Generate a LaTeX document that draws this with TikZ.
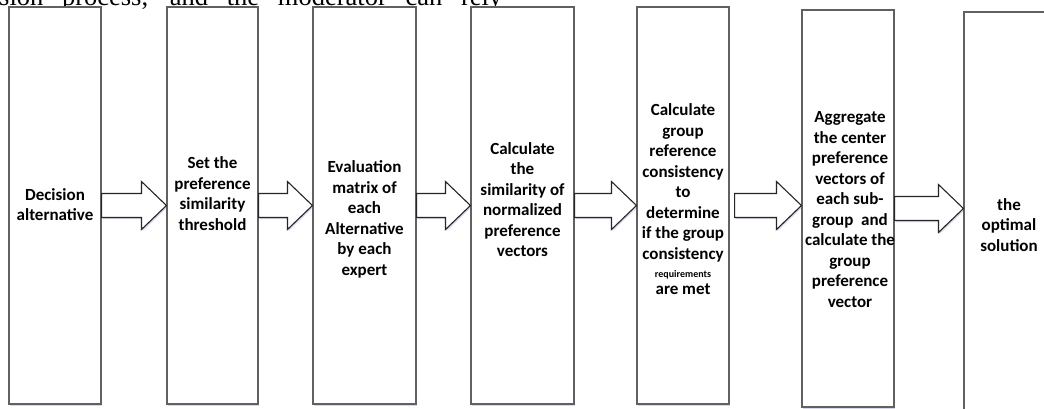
\documentclass[tikz,border=0pt]{standalone}
\usepackage{fontspec}
\setmainfont{Carlito}
\newfontfamily\bodyserif{Liberation Serif}
\usetikzlibrary{calc,shadows}

\tikzset{
  stage/.style={draw=black!62, line width=1.1pt, fill=white, inner sep=0pt,
    drop shadow={shadow xshift=1.2pt, shadow yshift=-1.5pt, fill=blue!40!gray, opacity=0.22}},
  stagetext/.style={align=center, inner sep=0pt, font=\bfseries\fontsize{17}{20.5}\selectfont},
  flowarr/.style={draw=black!85, line width=1.1pt, fill=white, line join=miter,
    drop shadow={shadow xshift=1.2pt, shadow yshift=-1.5pt, fill=blue!40!gray, opacity=0.22}}
}

% block arrow from one stage to the next
\newcommand{\flowarrow}[3][0]{%
  \draw[flowarr] ($(#2.east)+(#1,-12)$) -- ($(#3.west |- #2.east)+(-25,-12)$)
    -- ($(#3.west |- #2.east)+(-25,-24)$) -- (#3.west |- #2.east)
    -- ($(#3.west |- #2.east)+(-25,24)$) -- ($(#3.west |- #2.east)+(-25,12)$)
    -- ($(#2.east)+(#1,12)$) -- cycle;}

\begin{document}
\begin{tikzpicture}[x=1pt, y=-1pt]
    \clip (0,0) rectangle (1044,408);
    \fill[white] (0,0) rectangle (1044,408);

    % line of the page above, cut off
    \node[anchor=base west, inner sep=0pt] (pagetext) at (-1,5)
        {\bodyserif\fontsize{26.5}{30}\selectfont\makebox[503pt][s]{sion process, and the moderator can rely}};

    % stages
    \node[stage, minimum width=92pt, minimum height=397pt] (b1) at (55,205.5) {};
    \node[stage, minimum width=91pt, minimum height=397pt] (b2) at (212.5,205.5) {};
    \node[stage, minimum width=103pt, minimum height=397pt] (b3) at (364.5,205.5) {};
    \node[stage, minimum width=103pt, minimum height=397pt] (b4) at (522.5,205.5) {};
    \node[stage, minimum width=92pt, minimum height=397pt] (b5) at (683,205.5) {};
    \node[stage, minimum width=92pt, minimum height=397pt] (b6) at (848,208.5) {};
    \node[stage, minimum width=116pt, minimum height=408pt] (b7) at (1022,216) {};

    % arrows
    \flowarrow{b1}{b2}
    \flowarrow{b2}{b3}
    \flowarrow{b3}{b4}
    \flowarrow{b4}{b5}
    \flowarrow[5]{b5}{b6}
    \flowarrow{b6}{b7}

    % texts
    \node[stagetext] (t1) at (55,204.5) {Decision\\alternative};
    \node[stagetext] (t2) at (212.5,193.5) {Set the\\preference\\similarity\\threshold};
    \node[stagetext] (t3) at (364.5,219.5) {Evaluation\\matrix of\\each\\Alternative\\by each\\expert};
    \node[stagetext] (t4) at (522.5,199.5) {Calculate\\the\\similarity of\\normalized\\preference\\vectors};
    \node[stagetext] (t5) at (683,199) {Calculate\\group\\reference\\consistency\\to\\determine\\if the group\\consistency\\[-2pt]{\fontsize{10}{12}\selectfont requirements}\\[-4pt]are met};
    \node[stagetext] (t6) at (850,209.5) {Aggregate\\the center\\preference\\vectors of\\each sub-\\group~ and\\calculate the\\group\\preference\\vector};
    \node[stagetext] (t7) at (1009,225) {the\\optimal\\solution};
\end{tikzpicture}
\end{document}
